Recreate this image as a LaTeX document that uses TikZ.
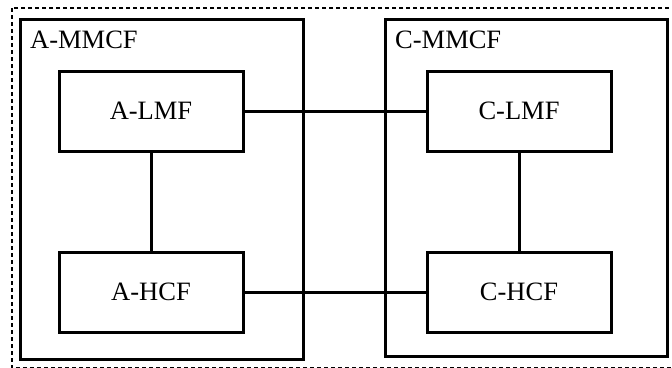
\documentclass[tikz,border=0pt]{standalone}
\usepackage{fontspec}
\setmainfont{Liberation Serif}
\usepackage{tikz}
\usetikzlibrary{calc}

\begin{document}
\begin{tikzpicture}[x=1pt,y=-1pt,
  func/.style={draw,line width=3pt,minimum width=184pt,minimum height=80pt,inner sep=0pt,font=\fontsize{26.5}{31}\selectfont},
  group/.style={draw,line width=3pt},
  link/.style={line width=3pt}]
  \useasboundingbox (0,0) rectangle (672,367);
  \draw[line width=2.8pt,dash pattern=on 4pt off 3pt] (12,8) rectangle (677,368);
  \draw[group] (20,19) rectangle (303,359);
  \draw[group] (385,19) rectangle (667,356);
  \node[anchor=base west,inner sep=0pt,font=\fontsize{26.5}{31}\selectfont] (ammcf) at (30,48) {A-MMCF};
  \node[anchor=base west,inner sep=0pt,font=\fontsize{26.5}{31}\selectfont] (cmmcf) at (395,48) {C-MMCF};
  \node[func] (alfm) at (151,111) {A-LMF};
  \node[func] (ahcf) at (151,292) {A-HCF};
  \node[func] (clfm) at (519,111) {C-LMF};
  \node[func] (chcf) at (519,292) {C-HCF};
  \draw[link] (alfm) -- (clfm);
  \draw[link] (ahcf) -- (chcf);
  \draw[link] (alfm) -- (ahcf);
  \draw[link] (clfm) -- (chcf);
\end{tikzpicture}
\end{document}
